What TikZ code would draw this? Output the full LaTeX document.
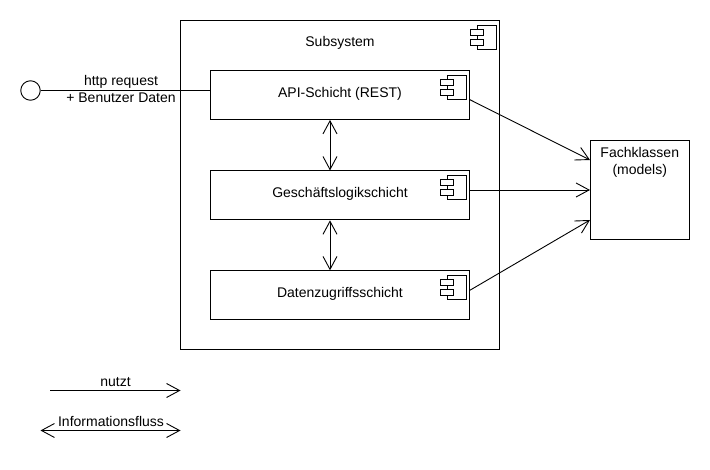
\documentclass[tikz,border=0pt]{standalone}
\usepackage{fontspec}
\setmainfont{Liberation Sans}
\usetikzlibrary{positioning,arrows.meta}

\tikzset{
    layer/.style = {draw, minimum width=259pt, minimum height=49pt, inner sep=0pt, text height=10pt, text depth=5pt},
    nutzt/.style = {-{Straight Barb[length=13pt,width=14pt]}},
    fluss/.style = {{Straight Barb[length=13pt,width=14pt]}-{Straight Barb[length=13pt,width=14pt]}},
    txt/.style = {inner sep=0pt, align=center},
    compicon/.pic = {
        \draw (-23,5) rectangle (-4,29);
        \draw[fill=white] (-29.5,9) rectangle (-17,15);
        \draw[fill=white] (-29.5,19) rectangle (-17,25);
    }
}

\begin{document}
\begin{tikzpicture}[x=1pt, y=-1pt, line width=0.9pt, font=\fontsize{14}{16.5}\selectfont]
    \useasboundingbox (0,0) rectangle (710,470);
    \node[draw, minimum width=319pt, minimum height=329pt, inner sep=0pt] (sub) at (340,185) {};
    \node[txt] (subtitle) at (340,42.5) {Subsystem};
    \node[layer] (api) at (340,95) {API-Schicht (REST)};
    \node[layer] (logic) [below=50.5pt of api] {Geschäftslogikschicht};
    \node[layer] (data) [below=50pt of logic] {Datenzugriffsschicht};
    \node[draw, minimum width=99.5pt, minimum height=99pt, inner sep=0pt] (fach) at (639.75,189.5) {};
    \node[txt] (fachtext) [below=7.5pt of fach.north] {Fachklassen\\(models)};
    \node[draw, circle, minimum size=19.5pt, inner sep=0pt] (port) at (30.5,90.5) {};
    \node[txt] (request) at (121,82) {http request};
    \node[txt] (benutzer) at (121,97.5) {+ Benutzer Daten};
    \pic at (sub.north east) {compicon};
    \pic at (api.north east) {compicon};
    \pic at (logic.north east) {compicon};
    \pic at (data.north east) {compicon};
    \coordinate (apiout) at (469.5,99.5);
    \coordinate (dataout) at (469.5,290.5);
    \coordinate (fachtop) at (590,160);
    \coordinate (fachmid) at (590,190);
    \coordinate (fachlow) at (590,220);
    \coordinate (logicout) at (469.5,190);
    \coordinate (nutztstart) at (50,390.5);
    \coordinate (nutztend) at (180.5,390.5);
    \coordinate (flussstart) at (40.5,430.5);
    \coordinate (flussend) at (180.5,430.5);
    \node[txt] (nutztlabel) at (115.5,382) {nutzt};
    \node[txt] (flusslabel) at (111,421.5) {Informationsfluss};
    \draw[-] (port) -- (port -| api.west) ;
    \draw[fluss] ([xshift=-10pt]api.south) -- ([xshift=-10pt]logic.north) ;
    \draw[fluss] ([xshift=-10pt]logic.south) -- ([xshift=-10pt]data.north) ;
    \draw[nutzt] (apiout) -- (fachtop) ;
    \draw[nutzt] (logicout) -- (fachmid) ;
    \draw[nutzt] (dataout) -- (fachlow) ;
    \draw[nutzt] (nutztstart) -- (nutztend) ;
    \draw[fluss] (flussstart) -- (flussend) ;
\end{tikzpicture}
\end{document}
